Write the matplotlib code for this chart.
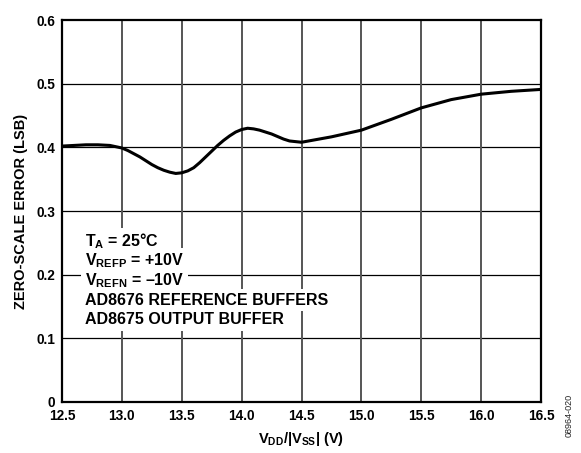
import numpy as np
import matplotlib
matplotlib.use("Agg")
import matplotlib.pyplot as plt

plt.rcParams['font.family'] = ['Liberation Sans', 'DejaVu Sans']
plt.rcParams['font.weight'] = 'bold'
plt.rcParams['axes.labelweight'] = 'bold'
plt.rcParams['mathtext.fontset'] = 'custom'
plt.rcParams['mathtext.rm'] = 'Liberation Sans:bold'
plt.rcParams['mathtext.it'] = 'Liberation Sans:bold'
plt.rcParams['mathtext.bf'] = 'Liberation Sans:bold'
plt.rcParams['mathtext.default'] = 'bf'

# supply voltage (V) and zero-scale error (LSB)
vdd = [12.5, 12.6, 12.7, 12.8, 12.9, 13.0, 13.05, 13.1, 13.15, 13.2, 13.25,
       13.3, 13.35, 13.4, 13.45, 13.5, 13.55, 13.6, 13.65, 13.7, 13.75,
       13.8, 13.85, 13.9, 13.95, 14.0, 14.05, 14.1, 14.15, 14.2, 14.25,
       14.3, 14.35, 14.4, 14.45, 14.5, 14.75, 15.0, 15.25, 15.5, 15.75,
       16.0, 16.25, 16.5]
zs_err = [0.402, 0.403, 0.404, 0.404, 0.403, 0.399, 0.395, 0.390, 0.385,
          0.379, 0.373, 0.368, 0.364, 0.361, 0.359, 0.360, 0.363, 0.368,
          0.376, 0.385, 0.394, 0.403, 0.411, 0.418, 0.424, 0.428, 0.430,
          0.429, 0.427, 0.424, 0.421, 0.417, 0.413, 0.410, 0.409, 0.408,
          0.4165, 0.427, 0.444, 0.462, 0.475, 0.4835, 0.488, 0.491]

xticks = [12.5, 13.0, 13.5, 14.0, 14.5, 15.0, 15.5, 16.0, 16.5]
yticks = [0, 0.1, 0.2, 0.3, 0.4, 0.5, 0.6]
ytick_labels = ['0', '0.1', '0.2', '0.3', '0.4', '0.5', '0.6']

notes = ['T$_A$ = 25°C',
         'V$_{REFP}$ = +10V',
         'V$_{REFN}$ = –10V',
         'AD8676 REFERENCE BUFFERS',
         'AD8675 OUTPUT BUFFER']

fig = plt.figure(figsize=(5.81, 4.53), dpi=100)
ax = fig.add_axes([0.1067, 0.1126, 0.8245, 0.8432])

# grid: horizontal black, vertical grey
for y in yticks[1:-1]:
    ax.axhline(y, color='black', lw=0.9, zorder=1)
for x in xticks[1:-1]:
    ax.axvline(x, color='#555555', lw=1.4, zorder=1)

ax.plot(vdd, zs_err, color='black', lw=2.2, zorder=3,
        solid_capstyle='round', solid_joinstyle='round')

ax.set_xlim(12.5, 16.5)
ax.set_ylim(0, 0.6)
ax.set_xticks(xticks)
ax.set_xticklabels(['%.1f' % t for t in xticks])
ax.set_yticks(yticks)
ax.set_yticklabels(ytick_labels)
ax.tick_params(length=0, labelsize=9.8, pad=5)
for s in ax.spines.values():
    s.set_linewidth(1.6)

ax.set_xlabel('V$_{DD}$/|V$_{SS}$| (V)', fontsize=10.5, labelpad=5)
ax.set_ylabel('ZERO-SCALE ERROR (LSB)', fontsize=10.5, labelpad=6)

ys = [0.421, 0.370, 0.318, 0.267, 0.216]
for txt, y in zip(notes, ys):
    ax.text(0.048, y, txt, transform=ax.transAxes, fontsize=11.5,
            va='center', ha='left', zorder=4,
            bbox=dict(facecolor='white', edgecolor='none', pad=2.5))

fig.text(0.979, 0.082, '08964-020', rotation=90, fontsize=6.5,
         fontweight='normal', ha='center', va='center', color='#222222')

fig.savefig('out.png', dpi=100)
